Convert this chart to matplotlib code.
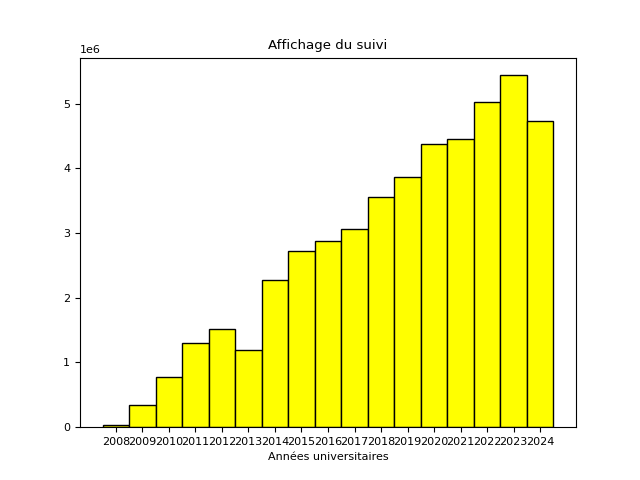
import matplotlib
matplotlib.use('Agg')
import matplotlib.pyplot as plt

plt.rcParams['font.size'] = 8

# années et nombre d'affichages
annees = [2008, 2009, 2010, 2011, 2012, 2013, 2014, 2015, 2016,
          2017, 2018, 2019, 2020, 2021, 2022, 2023, 2024]
affichages = [0.04e6, 0.34e6, 0.78e6, 1.30e6, 1.51e6, 1.19e6, 2.27e6, 2.72e6, 2.87e6,
              3.06e6, 3.55e6, 3.86e6, 4.38e6, 4.46e6, 5.02e6, 5.44e6, 4.73e6]

plt.figure(figsize=(6.4, 4.8), dpi=100)
plt.bar(annees, affichages, width=1, color='yellow', edgecolor='black')
plt.xticks(annees)
plt.title('Affichage du suivi')
plt.xlabel('Années universitaires')
plt.savefig('out.png')
plt.close()
